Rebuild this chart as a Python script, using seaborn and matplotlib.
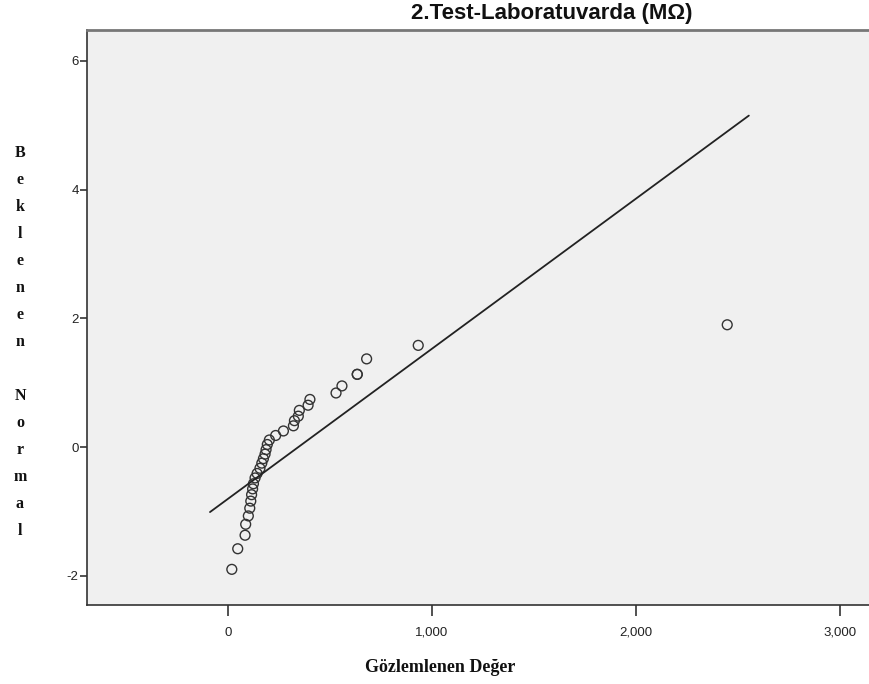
import numpy as np
import pandas as pd
import matplotlib
matplotlib.use("Agg")
import matplotlib.pyplot as plt
import matplotlib.ticker as mticker
import seaborn as sns

observed = [20, 49, 85, 88, 101, 108, 113, 117, 122, 126,
            134, 144, 158, 167, 175, 183, 188, 194, 204, 235,
            273, 322, 327, 346, 351, 394, 403, 531, 560, 635,
            635, 681, 934, 2449]
expected = [-1.90, -1.58, -1.37, -1.20, -1.07, -0.95, -0.84, -0.74, -0.65, -0.57,
            -0.48, -0.41, -0.33, -0.25, -0.18, -0.11, -0.04, 0.04, 0.11, 0.18,
            0.25, 0.33, 0.41, 0.48, 0.57, 0.65, 0.74, 0.84, 0.95, 1.13,
            1.13, 1.37, 1.58, 1.90]
# Reference line endpoints
line_x = [-87, 2555]
line_y = [-1.01, 5.15]

x_ticks = [0, 1000, 2000, 3000]
y_ticks = [-2, 0, 2, 4, 6]
title = "2.Test-Laboratuvarda (M\u03a9)"
xlabel = "Gözlemlenen Değer"
ylabel = "Beklenen Normal"

sns.set_theme(style="white")
plt.rcParams['font.family'] = ['Liberation Sans', 'DejaVu Sans']
plt.rcParams['axes.unicode_minus'] = False

fig = plt.figure(figsize=(8.70, 6.84), dpi=100)
ax = fig.add_axes([87/870, (684-605)/684, 1 - 87/870, (605-30)/684])
ax.set_facecolor("#f0f0f0")

pts = pd.DataFrame({"obs": observed, "exp": expected})
ln = pd.DataFrame({"x": line_x, "y": line_y})

sns.lineplot(data=ln, x="x", y="y", ax=ax, color="#222222", linewidth=1.3, sort=False)
sns.scatterplot(data=pts, x="obs", y="exp", ax=ax, s=50, facecolor="none",
                edgecolor="#333333", linewidth=1.0, marker="o")

ax.set_xlim(-690, 3149)
ax.set_ylim(-2.454, 6.48)
ax.set_xticks(x_ticks)
ax.set_yticks(y_ticks)
ax.xaxis.set_major_formatter(mticker.FuncFormatter(lambda v, p: f"{int(v):,}"))
ax.set_xlabel("")
ax.set_ylabel("")

for side in ["left", "bottom"]:
    ax.spines[side].set_color("#333333")
    ax.spines[side].set_linewidth(1.2)
ax.spines["top"].set_color("#777777")
ax.spines["top"].set_linewidth(2.0)
ax.spines["right"].set_visible(False)

ax.tick_params(axis="y", which="major", direction="out", length=5, width=1.2,
               color="#333333", labelsize=9.5, pad=1, left=True, labelcolor="#222222")
ax.tick_params(axis="x", which="major", direction="out", length=8, width=1.2,
               color="#333333", labelsize=9.5, pad=7.5, bottom=True, labelcolor="#222222")

fig.text(552/870, 1 - 13/684, title, ha="center", va="center",
         fontsize=16, fontweight="bold", color="#111111")
fig.text(440/870, 1 - 667/684, xlabel, ha="center", va="center",
         fontsize=13, fontweight="bold", family=["Liberation Serif", "DejaVu Serif"],
         color="#111111")
fig.text(20/870, 1 - 342/684, "\n".join(list(ylabel)), ha="center", va="center",
         fontsize=11.5, fontweight="bold", family=["Liberation Serif", "DejaVu Serif"],
         linespacing=1.92, color="#111111")

fig.savefig("out.png", dpi=100)
